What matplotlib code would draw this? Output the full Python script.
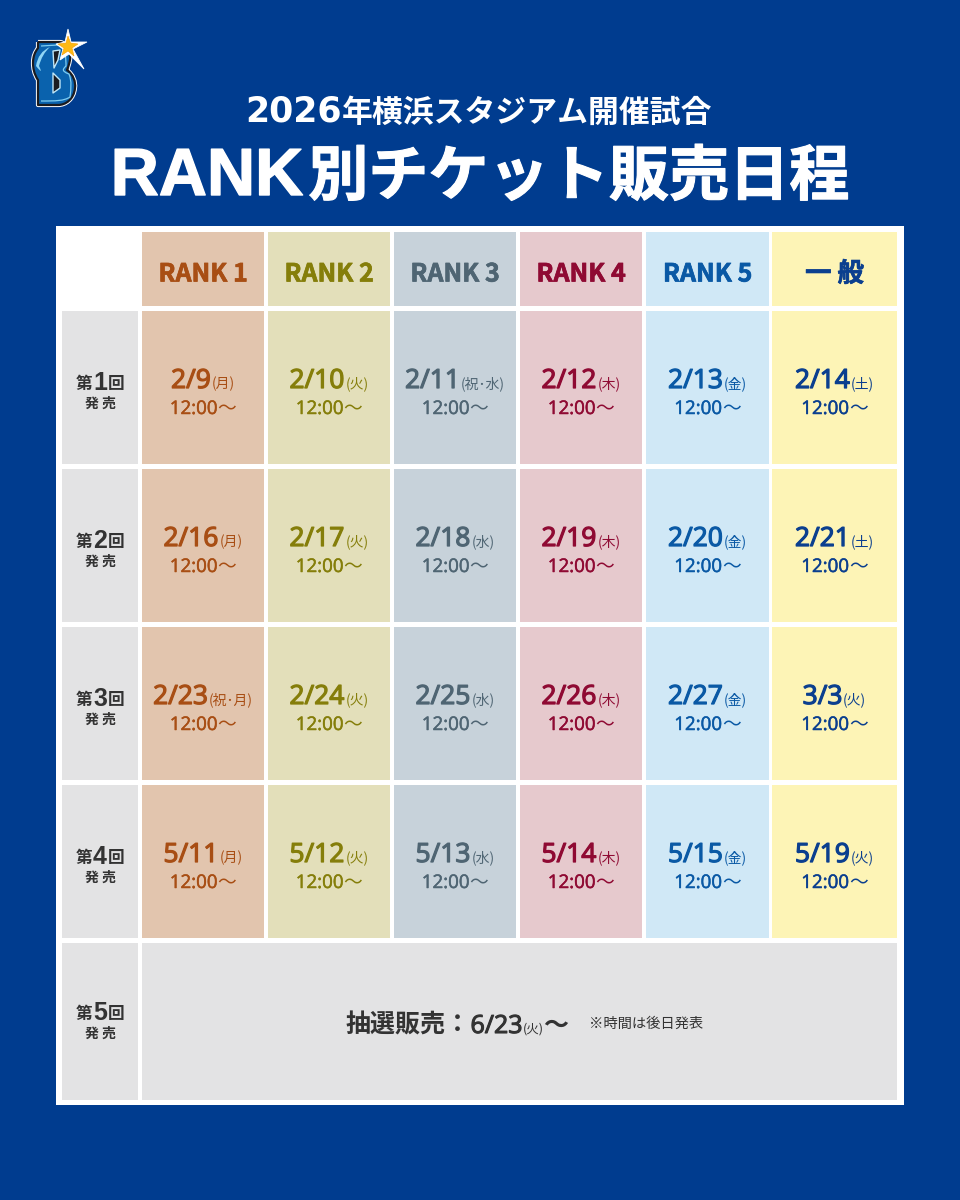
import matplotlib
matplotlib.use("Agg")
import matplotlib.pyplot as plt
import matplotlib.patheffects as pe
from matplotlib.patches import Rectangle, Polygon, PathPatch
from matplotlib.path import Path

CJK = ['Noto Sans CJK JP', 'DejaVu Sans']
OPEN = ['Open Sans', 'Noto Sans CJK JP', 'DejaVu Sans']
LIB = ['Liberation Sans', 'Noto Sans CJK JP']
DJV = ['DejaVu Sans', 'Noto Sans CJK JP']
plt.rcParams['font.family'] = CJK

# ---- content
title_year = "2026"
title_top = "年横浜スタジアム開催試合"
title_rank = "RANK"
title_main = "別チケット販売日程"
ranks = ["RANK 1", "RANK 2", "RANK 3", "RANK 4", "RANK 5", "一 般"]
round_labels = ["1", "2", "3", "4", "5"]
sale_hour = "12:00"
sale_tail = "〜"
dates_rank1 = [("2/9", "(月)"), ("2/16", "(月)"), ("2/23", "(祝･月)"), ("5/11", "(月)")]
dates_rank2 = [("2/10", "(火)"), ("2/17", "(火)"), ("2/24", "(火)"), ("5/12", "(火)")]
dates_rank3 = [("2/11", "(祝･水)"), ("2/18", "(水)"), ("2/25", "(水)"), ("5/13", "(水)")]
dates_rank4 = [("2/12", "(木)"), ("2/19", "(木)"), ("2/26", "(木)"), ("5/14", "(木)")]
dates_rank5 = [("2/13", "(金)"), ("2/20", "(金)"), ("2/27", "(金)"), ("5/15", "(金)")]
dates_general = [("2/14", "(土)"), ("2/21", "(土)"), ("3/3", "(火)"), ("5/19", "(火)")]
lottery_main = "抽選販売："
lottery_date = "6/23"
lottery_day = "(火)"
lottery_tail = "〜"
lottery_note = "※時間は後日発表"

# ---- style
NAVY = "#003c8f"
GREY = "#e3e3e4"
DARK = "#333333"
cell_colors = ["#e2c5ae", "#e3dfba", "#c7d2da", "#e6c9cd", "#d0e8f6", "#fdf4b6"]
text_colors = ["#a84e14", "#857e0a", "#4f6573", "#8f0a33", "#0a59a5", "#0b3f8f"]
col_edges = [(142, 264), (268, 390), (394, 516), (520, 642), (646, 769), (772, 897)]
row_edges = [(311, 464), (469, 622), (627, 780), (785, 938)]
header_edge = (232, 306)
last_row = (943, 1100)
label_col = (62, 138)

fig = plt.figure(figsize=(9.6, 12), dpi=100, facecolor=NAVY)
ax = fig.add_axes([0, 0, 1, 1])
ax.set_xlim(0, 960)
ax.set_ylim(1200, 0)
ax.axis("off")
renderer = fig.canvas.get_renderer()


def box(x0, x1, y0, y1, color):
    ax.add_patch(Rectangle((x0, y0), x1 - x0, y1 - y0, fc=color, ec="none"))


def line(segments, cx, y, color):
    """Consecutive text pieces centred on cx on a shared baseline.

    Each piece is (text, size, weight, family, gap after, stroke width)."""
    arts = []
    total = 0
    for s, size, weight, fam, gap, stroke in segments:
        t = ax.text(0, y, s, fontsize=size, fontweight=weight, color=color,
                    family=fam, ha="left", va="baseline")
        if stroke:
            t.set_path_effects([pe.withStroke(linewidth=stroke, foreground=color)])
        w = t.get_window_extent(renderer).width
        arts.append((t, w, gap))
        total += w + gap
    x = cx - total / 2
    for t, w, gap in arts:
        t.set_x(x)
        x += w + gap


# panel
box(56, 904, 226, 1105, "white")

# titles
line([(title_year, 25, "bold", DJV, 0, 0), (title_top, 22.2, "bold", CJK, 0, 0)],
     479, 122, "white")
line([(title_rank, 48, "bold", LIB, 5, 1.0), (title_main, 43.3, "bold", CJK, 0, 0.8)],
     480, 195, "white")

# logo
b_verts = [(38, 42), (60, 42), (69, 43), (71, 55), (70, 60), (69, 65), (68, 68), (67, 70),
           (73, 74), (76, 82), (75, 88), (74, 99), (66, 105), (58, 105), (38, 105),
           (38, 80), (34, 74), (33, 68), (33, 63), (33, 56), (35, 52), (38, 48), (38, 42)]
b_codes = [Path.MOVETO, Path.LINETO, Path.CURVE4, Path.CURVE4, Path.CURVE4, Path.CURVE4,
           Path.CURVE4, Path.CURVE4, Path.CURVE4, Path.CURVE4, Path.CURVE4, Path.CURVE4,
           Path.CURVE4, Path.CURVE4, Path.LINETO, Path.LINETO, Path.CURVE4, Path.CURVE4,
           Path.CURVE4, Path.CURVE4, Path.CURVE4, Path.CURVE4, Path.LINETO]
b_path = Path(b_verts, b_codes)
ax.add_patch(PathPatch(b_path, fc="white", ec="white", lw=3.0, joinstyle="round"))
ax.add_patch(PathPatch(b_path, fc="#0a62ad", ec="#1b1b1f", lw=1.6, joinstyle="round"))
ax.add_patch(PathPatch(Path([(41, 46), (58, 45), (66, 47), (66, 60), (66, 66), (63, 69), (61, 71),
                             (69, 74), (72, 82), (71, 88), (70, 97), (64, 101), (56, 101), (41, 101)],
                            [Path.MOVETO, Path.LINETO, Path.CURVE4, Path.CURVE4, Path.CURVE4,
                             Path.CURVE4, Path.CURVE4, Path.CURVE4, Path.CURVE4, Path.CURVE4,
                             Path.CURVE4, Path.CURVE4, Path.CURVE4, Path.LINETO]),
                       fc="none", ec="#7fcdf0", lw=0.9))
ax.add_patch(PathPatch(Path([(50, 47), (38, 52), (36, 66), (44, 76), (39, 66), (42, 54), (50, 47)],
                            [Path.MOVETO, Path.CURVE3, Path.CURVE3, Path.CURVE3, Path.CURVE3,
                             Path.CURVE3, Path.CURVE3]),
                       fc="#8fd6f5", ec="none"))
for verts in ([(53, 51), (60, 50), (58, 60), (54, 68)], [(53, 73), (60, 80), (60, 88), (53, 93)]):
    ax.add_patch(Polygon(verts, fc="#1b1b1f", ec="#bfe6f7", lw=1.0, joinstyle="round"))
star = [(68, 29), (71, 42), (87, 42), (73, 49), (84, 69), (69, 54), (60, 60), (63, 49), (56, 44), (65, 42)]
ax.add_patch(Polygon(star, fc="white", ec="white", lw=0.6, joinstyle="miter"))
core = [(68, 36), (70.5, 43), (78, 44), (72, 48), (74, 56), (68, 51), (62, 55), (64, 48), (58, 44), (66, 43)]
ax.add_patch(Polygon(core, fc="#fdb913", ec="#f59a00", lw=0.4))

# header
for (x0, x1), rank, col, tc in zip(col_edges, ranks, cell_colors, text_colors):
    box(x0, x1, *header_edge, col)
    size = 19 if rank.startswith("一") else 18
    ax.text((x0 + x1) / 2, 281.5, rank, fontsize=size, fontweight="bold", color=tc,
            ha="center", va="baseline",
            path_effects=[pe.withStroke(linewidth=0.5, foreground=tc)])

# grid
columns = [dates_rank1, dates_rank2, dates_rank3, dates_rank4, dates_rank5, dates_general]
for (x0, x1), dates, col, tc in zip(col_edges, columns, cell_colors, text_colors):
    cx = (x0 + x1) / 2
    for (y0, y1), (day, wd) in zip(row_edges, dates):
        box(x0, x1, y0, y1, col)
        line([(day, 19, 400, OPEN, 1, 0.9), (wd, 10, "normal", CJK, 0, 0)], cx, y0 + 77, tc)
        line([(sale_hour, 13.5, 400, OPEN, 0, 0.35), (sale_tail, 13.5, "normal", CJK, 0, 0)],
             cx, y0 + 103, tc)

# round labels
lab_cx = (label_col[0] + label_col[1]) / 2
for i, ((y0, y1), n) in enumerate(zip(row_edges + [last_row], round_labels)):
    box(*label_col, y0, y1, GREY)
    cy = (y0 + y1) / 2
    if i == len(row_edges):
        cy -= 4
    line([("第", 12, "bold", CJK, 1, 0), (n, 18, "bold", LIB, 1, 0), ("回", 12, "bold", CJK, 0, 0)],
         lab_cx, cy + 2, DARK)
    ax.text(lab_cx, cy + 20, "発 売", fontsize=10, fontweight="bold", color=DARK,
            ha="center", va="baseline")

# lottery row
box(col_edges[0][0], col_edges[-1][1], *last_row, GREY)
line([(lottery_main, 18, "bold", CJK, 0, 0), (lottery_date, 18, 400, OPEN, 0, 0.8),
      (lottery_day, 9, "normal", CJK, 0, 0), (lottery_tail, 18, "bold", CJK, 0, 0)],
     457, 1033, DARK)
ax.text(589, 1028, lottery_note, fontsize=10.3, fontweight="normal", color=DARK,
        ha="left", va="baseline")

fig.savefig("out.png", dpi=100, facecolor=NAVY)
